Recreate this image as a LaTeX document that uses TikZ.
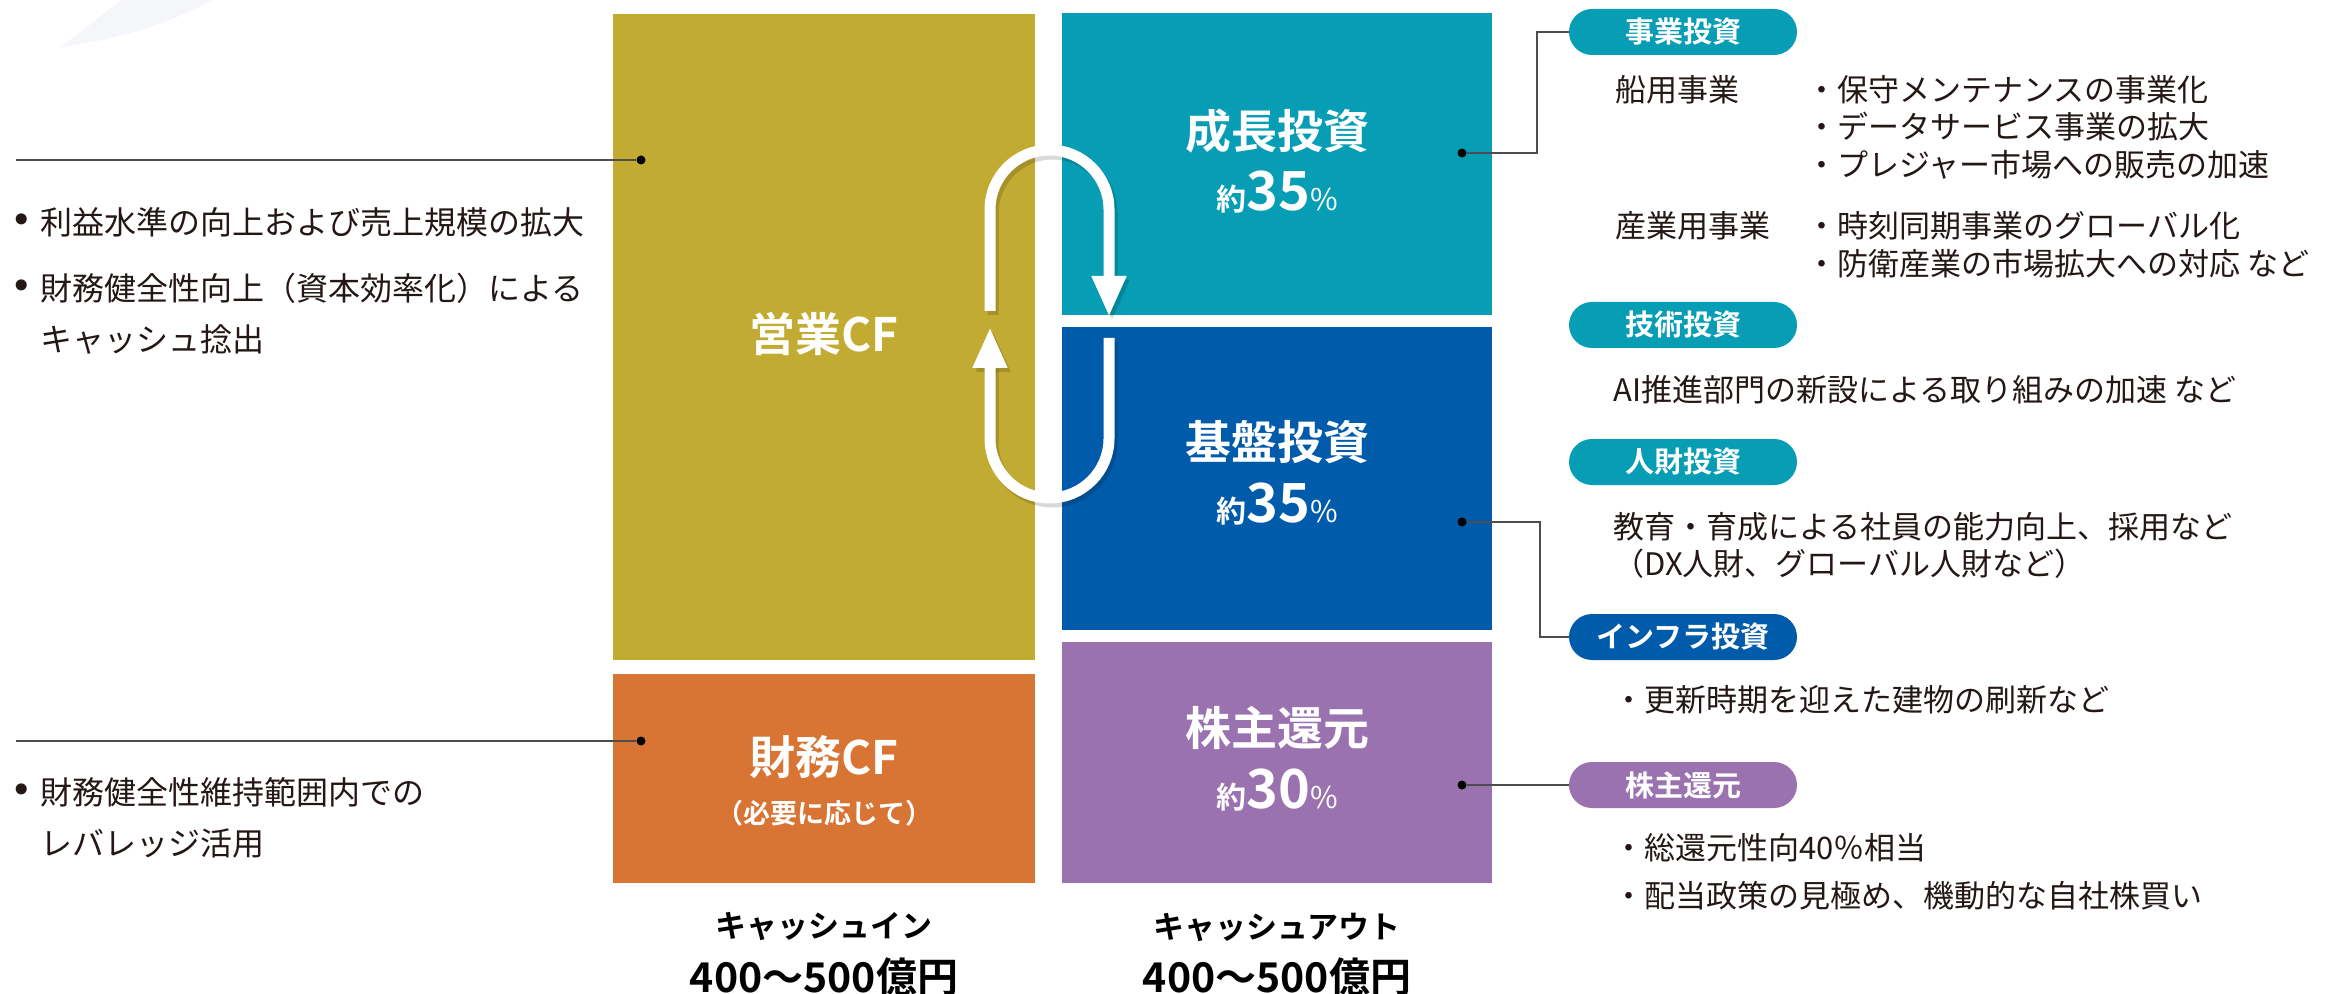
\documentclass[tikz,border=0pt]{standalone}
\usepackage{fontspec}
\setmainfont{Noto Sans CJK JP}[BoldFont={Noto Sans CJK JP Bold}]
\newfontfamily\bulfont{DejaVu Sans}
\usetikzlibrary{arrows.meta}
\definecolor{cYel}{HTML}{C1AB32}
\definecolor{cOrg}{HTML}{D87535}
\definecolor{cTeal}{HTML}{069DB5}
\definecolor{cBlue}{HTML}{005BAA}
\definecolor{cPur}{HTML}{9A72B0}
\definecolor{cTxt}{HTML}{231815}
\definecolor{cLine}{HTML}{4D4D4D}
\definecolor{cSw}{HTML}{F5F6F9}
\begin{document}
\begin{tikzpicture}[x=0.5pt,y=-0.5pt,
  box/.style={inner sep=0pt, outer sep=0pt, draw=none},
  ttl/.style={text=white, font=\bfseries\fontsize{23}{27}\selectfont, inner sep=0pt},
  sub/.style={text=white, font=\bfseries\fontsize{13.5}{16}\selectfont, inner sep=0pt},
  body/.style={text=cTxt, font=\fontsize{15.5}{19}\selectfont, inner sep=0pt, anchor=west},
  lbody/.style={text=cTxt, font=\fontsize{16}{20}\selectfont, inner sep=0pt, anchor=west},
  bul/.style={text=cTxt, font=\bulfont\fontsize{19}{22}\selectfont, inner sep=0pt},
  pill/.style={rounded corners=11.5pt, minimum width=114pt, minimum height=23pt, inner sep=0pt, text=white, font=\bfseries\fontsize{14.5}{17}\selectfont},
  conn/.style={draw=cLine, line width=0.8pt},
  dot/.style={circle, fill=black, inner sep=0pt, minimum size=4.5pt},
  bot/.style={text=black, font=\bfseries\fontsize{15.5}{18}\selectfont, inner sep=0pt},
  botnum/.style={text=black, font=\bfseries\fontsize{20.5}{24}\selectfont, inner sep=0pt, anchor=base},
  pct/.style={text=white, inner sep=0pt, anchor=base},
  loopw/.style={white, line width=5.5pt, -{Triangle[length=20.5pt,width=16pt]}},
  loops/.style={black, opacity=0.15, line width=5.5pt, -{Triangle[length=20.5pt,width=16pt]}}
]
\newcommand{\pctxt}[1]{{\bfseries\fontsize{15}{15}\selectfont 約}{\bfseries\fontsize{27}{27}\selectfont #1}{\fontsize{15}{15}\selectfont\%}}
\useasboundingbox (0,0) rectangle (2328,994);
\fill[white] (0,0) rectangle (2328,994);
% faint decoration
\fill[cSw] (60,47) .. controls (85,30) and (105,12) .. (122,0) -- (212,0) .. controls (180,18) and (130,38) .. (60,47) -- cycle;

% boxes
\node[box, fill=cYel, minimum width=211pt, minimum height=323pt] (bYel) at (824,337) {};
\node[box, fill=cOrg, minimum width=211pt, minimum height=104.5pt] (bOrg) at (824,778.5) {};
\node[box, fill=cTeal, minimum width=215pt, minimum height=151pt] (bTeal) at (1277,164) {};
\node[box, fill=cBlue, minimum width=215pt, minimum height=151.5pt] (bBlue) at (1277,478.5) {};
\node[box, fill=cPur, minimum width=215pt, minimum height=120.5pt] (bPur) at (1277,762.5) {};

% loop arrows (shadow then white)
\begin{scope}[shift={(3,4)}]
\draw[loops] (990,311) -- (990,209.5) arc[start angle=180,end angle=0,radius=29.75pt] -- (1109,317);
\draw[loops] (1109,338) -- (1109,438.5) arc[start angle=0,end angle=-180,radius=29.75pt] -- (990,327);
\end{scope}
\coordinate (pA1) at (990,311);
\coordinate (pA2) at (1109,317);
\coordinate (pB1) at (1109,338);
\coordinate (pB2) at (990,327);
\draw[loopw] (pA1) -- (990,209.5) arc[start angle=180,end angle=0,radius=29.75pt] -- (pA2);
\draw[loopw] (pB1) -- (1109,438.5) arc[start angle=0,end angle=-180,radius=29.75pt] -- (pB2);

% box texts
\node[ttl] (tYel) at (824,334) {営業CF};
\node[ttl] (tOrg) at (824,757) {財務CF};
\node[sub] (tOrg2) at (824,813) {（必要に応じて）};
\node[ttl] (tTeal) at (1277,131) {成長投資};
\node[pct] (pTeal) at (1277,211) {\pctxt{35}};
\node[ttl] (tBlue) at (1277,442) {基盤投資};
\node[pct] (pBlue) at (1277,522) {\pctxt{35}};
\node[ttl] (tPur) at (1277,728) {株主還元};
\node[pct] (pPur) at (1277,808) {\pctxt{30}};

% bottom labels
\node[bot] (cIn) at (824,927) {キャッシュイン};
\node[botnum] (cInN) at (824,992) {400〜500億円};
\node[bot] (cOut) at (1277,927) {キャッシュアウト};
\node[botnum] (cOutN) at (1277,992) {400〜500億円};

% left side
\coordinate (lA) at (16,160);
\node[dot] (dYel) at (641,160) {};
\draw[conn] (lA) -- (dYel);
\coordinate (lB) at (16,741);
\node[dot] (dOrg) at (641,741) {};
\draw[conn] (lB) -- (dOrg);
\node[bul] (bu1) at (22,224) {•};
\node[lbody] (l1) at (40,222) {利益水準の向上および売上規模の拡大};
\node[bul] (bu2) at (22,290) {•};
\node[lbody] (l2) at (40,288) {財務健全性向上（資本効率化）による};
\node[lbody] (l3) at (40,340) {キャッシュ捻出};
\node[bul] (bu3) at (22,794) {•};
\node[lbody] (l4) at (40,792) {財務健全性維持範囲内での};
\node[lbody] (l5) at (40,843) {レバレッジ活用};

% right side pills
\node[pill, fill=cTeal] (pJ) at (1683,32) {事業投資};
\node[pill, fill=cTeal] (pG) at (1683,325) {技術投資};
\node[pill, fill=cTeal] (pH) at (1683,462) {人財投資};
\node[pill, fill=cBlue] (pI) at (1683,637) {インフラ投資};
\node[pill, fill=cPur] (pK) at (1683,785) {株主還元};

% connectors
\node[dot] (dTeal) at (1462,153) {};
\coordinate (kA) at (1537,32);
\draw[conn] (dTeal) -| (kA) -- (pJ.west);
\node[dot] (dBlue) at (1462,522) {};
\coordinate (kB) at (1540,637);
\draw[conn] (dBlue) -| (kB) -- (pI.west);
\node[dot] (dPur) at (1462,785) {};
\draw[conn] (dPur) -- (pK.west);

% right texts
\node[body] (r1) at (1615,90) {船用事業};
\node[body] (r2) at (1806,90) {・保守メンテナンスの事業化};
\node[body] (r3) at (1806,127) {・データサービス事業の拡大};
\node[body] (r4) at (1806,165) {・プレジャー市場への販売の加速};
\node[body] (r5) at (1615,226) {産業用事業};
\node[body] (r6) at (1806,226) {・時刻同期事業のグローバル化};
\node[body] (r7) at (1806,264) {・防衛産業の市場拡大への対応 など};
\node[body] (r8) at (1613,390) {AI推進部門の新設による取り組みの加速 など};
\node[body] (r9) at (1613,527) {教育・育成による社員の能力向上、採用など};
\node[body] (r10) at (1613,564) {（DX人財、グローバル人財など）};
\node[body] (r11) at (1613,700) {・更新時期を迎えた建物の刷新など};
\node[body] (r12) at (1613,848) {・総還元性向40％相当};
\node[body] (r13) at (1613,896) {・配当政策の見極め、機動的な自社株買い};
\end{tikzpicture}
\end{document}
